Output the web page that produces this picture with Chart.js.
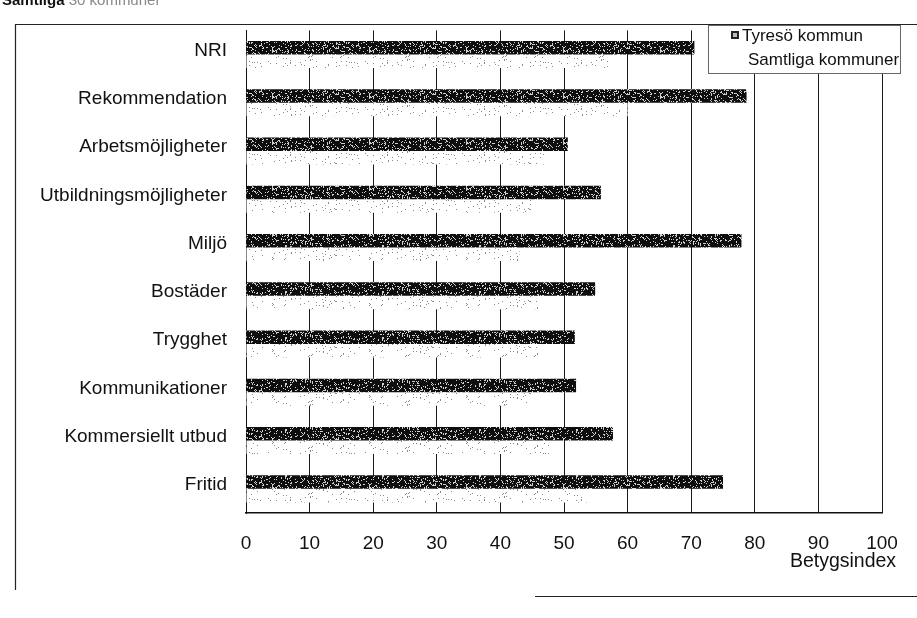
<!DOCTYPE html>
<html>
<head>
<meta charset="utf-8">
<script src="https://cdn.jsdelivr.net/npm/chart.js@4.4.1/dist/chart.umd.min.js"></script>
<style>
    html, body { margin: 0; padding: 0; background: #fff; }
    #wrap { width: 917px; height: 618px; position: relative; }
</style>
</head>
<body>
<div id="wrap"><canvas id="indexChart" width="917" height="618"></canvas></div>
<script>
// Kategorier och värden
var categories = ['NRI', 'Rekommendation', 'Arbetsmöjligheter', 'Utbildningsmöjligheter', 'Miljö',
    'Bostäder', 'Trygghet', 'Kommunikationer', 'Kommersiellt utbud', 'Fritid'];
var tyresoValues = [70.5, 78.7, 50.6, 55.8, 77.9, 54.9, 51.7, 51.9, 57.7, 75];
var samtligaValues = [58, 60, 47, 45, 43, 46, 46, 45, 49, 54];
var xTicks = [0, 10, 20, 30, 40, 50, 60, 70, 80, 90, 100];
var seriesNames = ['Tyresö kommun', 'Samtliga kommuner'];
var axisTitle = 'Betygsindex';

var FONT = '"Liberation Sans", Arial, sans-serif';

// rastermönster som liknar den skannade fyllningen (fast hash, inga slumptal)
function makePattern(base, speck, limit) {
    var W = 97, H = 23;
    var c = document.createElement('canvas');
    c.width = W; c.height = H;
    var g = c.getContext('2d');
    g.fillStyle = base;
    g.fillRect(0, 0, W, H);
    g.fillStyle = speck;
    for (var y = 0; y < H; y++) {
        for (var x = 0; x < W; x++) {
            var h = Math.imul(x, 374761393) + Math.imul(y, 668265263);
            h = Math.imul(h ^ (h >>> 13), 1274126177);
            h = (h ^ (h >>> 16)) >>> 0;
            if (h % 100 < limit) g.fillRect(x, y, 1, 1);
        }
    }
    return g.createPattern(c, 'repeat');
}

document.addEventListener('DOMContentLoaded', function () {
    var ctx = document.getElementById('indexChart').getContext('2d');
    var darkFill = makePattern('#0e0e0e', '#d0d0d0', 17);
    var lightFill = makePattern('#ffffff', '#8a8a8a', 4);

    // ram, rubrikrest, axeltitel och förklaring
    var decorations = {
        id: 'decorations',
        beforeDraw: function (chart) {
            var c = chart.ctx;
            c.save();
            c.fillStyle = '#fff';
            c.fillRect(0, 0, chart.width, chart.height);
            c.restore();
        },
        afterDraw: function (chart) {
            var c = chart.ctx;
            c.save();
            // avklippt rubrik överst
            c.textBaseline = 'alphabetic';
            c.fillStyle = '#111';
            c.font = 'bold 15px ' + FONT;
            c.fillText('Samtliga', 2, 5);
            var w = c.measureText('Samtliga ').width;
            c.fillStyle = '#888';
            c.font = '15px ' + FONT;
            c.fillText('30 kommuner', 2 + w, 5);

            // yttre ram
            c.strokeStyle = '#222';
            c.lineWidth = 1.2;
            c.beginPath();
            c.moveTo(15.5, 590);
            c.lineTo(15.5, 24.5);
            c.lineTo(917, 24.5);
            c.moveTo(535, 596.5);
            c.lineTo(917, 596.5);
            c.stroke();

            // axeltitel
            c.fillStyle = '#111';
            c.font = '19.5px ' + FONT;
            c.textAlign = 'center';
            c.textBaseline = 'middle';
            c.fillText(axisTitle, 843, 562);

            // förklaring
            var bx = 708, by = 25, bw = 192, bh = 48;
            c.fillStyle = '#fff';
            c.fillRect(bx, by, bw, bh);
            c.strokeStyle = '#666';
            c.lineWidth = 1;
            c.strokeRect(bx + 0.5, by + 0.5, bw, bh);
            c.font = '17px ' + FONT;
            c.textAlign = 'left';
            var ds = chart.data.datasets;
            c.fillStyle = '#222';
            c.fillRect(731, 31, 8, 8);
            c.fillStyle = '#bbb';
            c.fillRect(733, 33, 4, 4);
            c.fillStyle = '#111';
            c.fillText(ds[0].label, 742, 36);
            c.fillText(ds[1].label, 748, 60);
            c.restore();
        }
    };

    var indexChart = new Chart(ctx, {
        type: 'bar',
        data: {
            labels: categories,
            datasets: [{
                label: seriesNames[0],
                data: tyresoValues,
                backgroundColor: darkFill,
                borderWidth: 0,
                categoryPercentage: 0.56,
                barPercentage: 1.0
            }, {
                label: seriesNames[1],
                data: samtligaValues,
                backgroundColor: lightFill,
                borderWidth: 0,
                categoryPercentage: 0.56,
                barPercentage: 1.0
            }]
        },
        options: {
            indexAxis: 'y',
            responsive: false,
            animation: false,
            layout: { padding: { left: 0, right: 35, top: 24, bottom: 0 } },
            plugins: {
                legend: { display: false },
                tooltip: { enabled: false }
            },
            scales: {
                x: {
                    min: 0,
                    max: 100,
                    afterBuildTicks: function (scale) {
                        scale.ticks = xTicks.map(function (v) { return { value: v }; });
                    },
                    afterFit: function (scale) { scale.height = 105; },
                    grid: { color: '#1a1a1a', lineWidth: 1, drawTicks: false },
                    border: { display: true, color: '#111', width: 1.5 },
                    ticks: {
                        padding: 19,
                        color: '#111',
                        font: { family: FONT, size: 19 }
                    }
                },
                y: {
                    afterFit: function (scale) { scale.width = 246; },
                    grid: { display: false, drawTicks: false },
                    border: { display: true, color: '#111', width: 1 },
                    ticks: {
                        padding: 19,
                        labelOffset: -4,
                        color: '#111',
                        font: { family: FONT, size: 19 }
                    }
                }
            }
        },
        plugins: [decorations]
    });
});
</script>
</body>
</html>
